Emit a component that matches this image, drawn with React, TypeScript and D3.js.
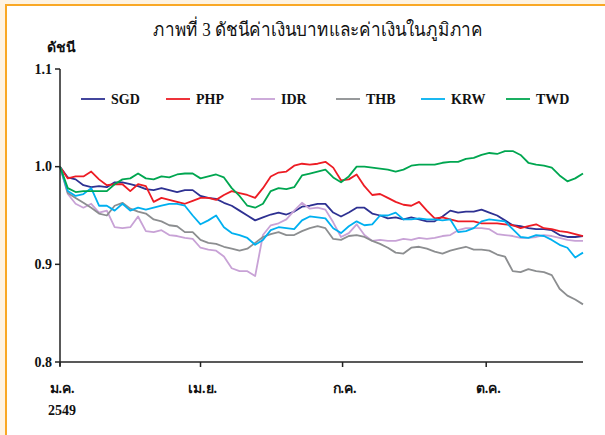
import React from "react";
import * as d3 from "d3";

const TITLE = "ภาพที่ 3 ดัชนีค่าเงินบาทและค่าเงินในภูมิภาค";
const Y_LABEL = "ดัชนี";
const Y_TICKS = [0.8, 0.9, 1.0, 1.1];
const X_TICK_DATES = [new Date(2006, 0, 1), new Date(2006, 3, 1), new Date(2006, 6, 1), new Date(2006, 9, 1)];
const X_TICK_LABELS = ["ม.ค.", "เม.ย.", "ก.ค.", "ต.ค."];
const X_YEAR_LABEL = "2549";
const STEP_DAYS = 5;

const SERIES_NAMES = ["SGD", "PHP", "IDR", "THB", "KRW", "TWD"];
const SERIES_COLORS = ["#2e3192", "#ed1c24", "#c8a2d6", "#8c8e90", "#00b0f0", "#00a650"];

const SGD = [1.000,0.989,0.987,0.981,0.979,0.980,0.979,0.984,0.984,0.982,0.980,0.977,0.976,0.978,0.976,0.974,0.976,0.976,0.970,0.968,0.967,0.963,0.960,0.955,0.950,0.945,0.948,0.951,0.953,0.951,0.954,0.959,0.960,0.962,0.962,0.953,0.949,0.953,0.958,0.958,0.952,0.950,0.947,0.948,0.946,0.948,0.946,0.944,0.944,0.949,0.955,0.953,0.954,0.954,0.956,0.953,0.950,0.945,0.940,0.939,0.937,0.936,0.936,0.935,0.930,0.928,0.928,0.929];
const PHP = [1.000,0.988,0.990,0.990,0.995,0.987,0.981,0.982,0.982,0.975,0.982,0.980,0.964,0.968,0.966,0.964,0.962,0.965,0.968,0.968,0.966,0.971,0.975,0.973,0.971,0.968,0.978,0.990,0.994,0.995,1.001,1.003,1.002,1.003,1.005,0.999,0.986,0.987,0.992,0.980,0.971,0.972,0.968,0.964,0.961,0.960,0.964,0.955,0.947,0.948,0.946,0.944,0.944,0.944,0.942,0.942,0.942,0.941,0.940,0.937,0.939,0.941,0.937,0.936,0.934,0.933,0.931,0.929];
const IDR = [1.000,0.972,0.962,0.958,0.962,0.953,0.955,0.938,0.937,0.938,0.949,0.934,0.933,0.935,0.930,0.929,0.927,0.926,0.917,0.915,0.914,0.908,0.896,0.893,0.893,0.888,0.930,0.940,0.942,0.946,0.955,0.963,0.957,0.958,0.956,0.943,0.928,0.932,0.941,0.930,0.924,0.925,0.924,0.924,0.926,0.925,0.927,0.926,0.927,0.929,0.930,0.935,0.937,0.937,0.937,0.936,0.931,0.930,0.929,0.927,0.927,0.928,0.930,0.929,0.927,0.925,0.924,0.924];
const THB = [1.000,0.973,0.968,0.963,0.958,0.952,0.950,0.960,0.963,0.957,0.954,0.952,0.946,0.944,0.940,0.939,0.933,0.933,0.925,0.922,0.921,0.918,0.916,0.914,0.916,0.922,0.928,0.931,0.933,0.930,0.930,0.934,0.937,0.939,0.937,0.926,0.925,0.929,0.930,0.928,0.924,0.921,0.917,0.912,0.911,0.917,0.918,0.916,0.913,0.911,0.914,0.916,0.918,0.915,0.915,0.914,0.910,0.908,0.893,0.892,0.895,0.893,0.892,0.889,0.875,0.868,0.864,0.859];
const KRW = [1.000,0.975,0.970,0.972,0.978,0.960,0.960,0.955,0.962,0.955,0.958,0.956,0.958,0.960,0.962,0.962,0.960,0.950,0.941,0.945,0.950,0.938,0.932,0.930,0.927,0.920,0.925,0.935,0.938,0.937,0.936,0.945,0.949,0.948,0.947,0.937,0.932,0.939,0.944,0.940,0.941,0.950,0.950,0.953,0.946,0.946,0.947,0.946,0.946,0.945,0.946,0.933,0.934,0.937,0.944,0.946,0.945,0.944,0.936,0.928,0.927,0.930,0.929,0.925,0.920,0.917,0.907,0.912];
const TWD = [1.000,0.978,0.974,0.975,0.975,0.975,0.975,0.982,0.987,0.988,0.993,0.988,0.987,0.990,0.989,0.992,0.993,0.993,0.988,0.990,0.992,0.989,0.978,0.970,0.960,0.958,0.962,0.975,0.978,0.977,0.979,0.991,0.993,0.995,0.997,0.989,0.984,0.990,1.000,1.000,0.999,0.998,0.997,0.995,0.997,1.001,1.002,1.002,1.002,1.004,1.005,1.005,1.008,1.009,1.012,1.014,1.013,1.016,1.016,1.012,1.004,1.002,1.001,0.999,0.991,0.985,0.988,0.993];

const SERIES = [SGD, PHP, IDR, THB, KRW, TWD];

const FONT = "Liberation Serif, Times New Roman, DejaVu Serif, serif";

export default function App() {
  const W = 605, H = 435;
  const x0 = 60, x1 = 583, yTop = 69, yBot = 362;
  const start = new Date(2006, 0, 1);
  const dates = SGD.map((_, i) => d3.timeDay.offset(start, i * STEP_DAYS));
  const x = d3.scaleTime().domain([start, dates[dates.length - 1]]).range([x0, x1]);
  const y = d3.scaleLinear().domain([0.8, 1.1]).range([yBot, yTop]);
  const line = d3.line<number>().x((_, i) => x(dates[i])).y((v) => y(v));

  const legendY = 99;
  const legendX0 = 81;
  const legendStep = 85;
  const txt = { fontFamily: FONT };

  return (
    <svg width={W} height={H} style={{ position: "absolute", left: 0, top: 0 }}>
      <rect x={0} y={0} width={W} height={H} fill="#fef3e2" />
      <rect x={6} y={5} width={W + 10} height={H + 10} fill="#ffffff" stroke="#f9a825" strokeWidth={2} />
      <text x={318} y={36} textAnchor="middle" fontSize={19} fill="#111" style={txt} textLength={330} lengthAdjust="spacingAndGlyphs">{TITLE}</text>
      <text x={47} y={52} fontSize={14} fontWeight="bold" fill="#111" style={txt}>{Y_LABEL}</text>

      {SERIES.map((s, k) => (
        <path key={SERIES_NAMES[k]} d={line(s) || ""} fill="none" stroke={SERIES_COLORS[k]} strokeWidth={1.8} strokeLinejoin="round" />
      ))}

      <line x1={x0} x2={x0} y1={yTop} y2={yBot + 4} stroke="#222" strokeWidth={1.5} />
      <line x1={x0} x2={x1} y1={yBot} y2={yBot} stroke="#222" strokeWidth={1.5} />
      {Y_TICKS.map((t) => (
        <g key={t}>
          <line x1={x0 - 5} x2={x0} y1={y(t)} y2={y(t)} stroke="#222" strokeWidth={1.5} />
          <text x={52} y={y(t) + 4.5} textAnchor="end" fontSize={14} fontWeight="bold" fill="#111" style={txt}>{t.toFixed(1)}</text>
        </g>
      ))}
      {X_TICK_DATES.map((d, i) => (
        <g key={i}>
          <line x1={x(d)} x2={x(d)} y1={yBot} y2={yBot + 5} stroke="#222" strokeWidth={1.5} />
          <text x={x(d) + 2} y={393} textAnchor="middle" fontSize={14} fontWeight="bold" fill="#111" style={txt}>{X_TICK_LABELS[i]}</text>
        </g>
      ))}
      <text x={x(X_TICK_DATES[0]) + 2} y={415} textAnchor="middle" fontSize={14} fontWeight="bold" fill="#111" style={txt}>{X_YEAR_LABEL}</text>

      {SERIES_NAMES.map((n, k) => {
        const lx = legendX0 + k * legendStep;
        return (
          <g key={n}>
            <line x1={lx} x2={lx + 24} y1={legendY} y2={legendY} stroke={SERIES_COLORS[k]} strokeWidth={1.8} />
            <text x={lx + 30} y={legendY + 5} fontSize={14} fontWeight="bold" fill="#111" style={txt}>{n}</text>
          </g>
        );
      })}
    </svg>
  );
}
